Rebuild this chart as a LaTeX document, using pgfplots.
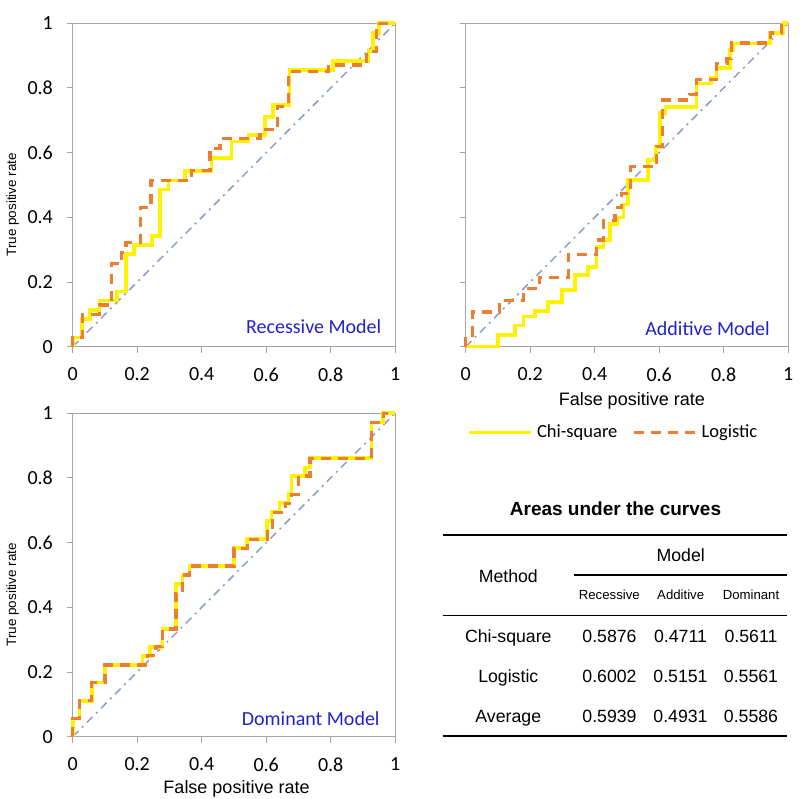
\documentclass[border=0pt]{standalone}
\usepackage{pgfplots}
\pgfplotsset{compat=1.18}
\usepackage{fontspec}
\setmainfont{Liberation Sans}
\newfontfamily\carlito{Carlito}
\definecolor{chiyellow}{RGB}{255,242,0}
\definecolor{logorange}{RGB}{237,125,49}
\definecolor{diagblue}{RGB}{138,156,200}
\definecolor{axgray}{RGB}{166,166,166}
\definecolor{modelblue}{RGB}{34,34,204}
\tikzset{mlabel/.style={anchor=base east, text=modelblue, inner sep=0pt, font=\carlito\fontsize{10}{12}\selectfont}}
\pgfplotsset{
  rocaxis/.style={
    scale only axis, width=161.25pt, height=161.7pt,
    anchor=south west,
    xmin=0, xmax=1, ymin=0, ymax=1,
    xtick={0,0.2,0.4,0.6,0.8,1}, ytick={0,0.2,0.4,0.6,0.8,1},
    xticklabels={0,0.2,0.4,0.6,0.8,1},
    yticklabels={0,0.2,0.4,0.6,0.8,1},
    tick align=outside, xtick pos=bottom, ytick pos=left,
    major tick length=3pt,
    tick style={axgray, line width=0.5pt},
    axis line style={axgray, line width=0.5pt},
    ticklabel style={font=\carlito\fontsize{10}{12}\selectfont},
    xticklabel style={yshift=-4pt},
    yticklabel style={xshift=-3.4pt},
    clip=false,
    ylabel style={at={(axis description cs:-0.186,0.439)}, anchor=center, font=\fontsize{6.75}{8}\selectfont},
    xlabel style={font=\fontsize{9}{11}\selectfont, anchor=base},
  },
  diag/.style={forget plot, diagblue, line width=0.75pt, dash pattern=on 4pt off 2.5pt on 1pt off 2.5pt},
  chi/.style={chiyellow, line width=1.8pt, line join=miter},
  logi/.style={logorange, line width=1.6pt, dash pattern=on 5pt off 3.5pt},
}
\begin{document}
\begin{tikzpicture}
\useasboundingbox (0pt,0pt) rectangle (400pt,399.5pt);
% ---------------- Recessive
\begin{axis}[rocaxis, at={(36.35pt,226.15pt)}, ylabel={True positive rate}]
\addplot[diag] coordinates {(0,0) (1,1)};
\addplot[chi] coordinates {(0,0) (0,0.029) (0.028,0.029) (0.028,0.086) (0.054,0.086) (0.054,0.114) (0.083,0.114) (0.083,0.143) (0.138,0.143) (0.138,0.171) (0.165,0.171) (0.165,0.286) (0.19,0.286) (0.19,0.314) (0.245,0.314) (0.245,0.343) (0.27,0.343) (0.27,0.486) (0.297,0.486) (0.297,0.514) (0.348,0.514) (0.348,0.543) (0.431,0.543) (0.431,0.583) (0.493,0.583) (0.493,0.634) (0.545,0.634) (0.545,0.655) (0.596,0.655) (0.596,0.711) (0.622,0.711) (0.622,0.747) (0.672,0.747) (0.672,0.856) (0.808,0.856) (0.808,0.884) (0.917,0.884) (0.917,0.914) (0.932,0.914) (0.932,0.97) (0.95,0.97) (0.95,1) (1,1)};
\addplot[logi] coordinates {(0,0) (0,0.029) (0.031,0.029) (0.031,0.1) (0.083,0.1) (0.083,0.129) (0.121,0.129) (0.121,0.257) (0.152,0.257) (0.152,0.292) (0.165,0.292) (0.165,0.322) (0.209,0.322) (0.209,0.43) (0.243,0.43) (0.243,0.514) (0.369,0.514) (0.369,0.546) (0.426,0.546) (0.426,0.614) (0.457,0.614) (0.457,0.643) (0.581,0.643) (0.581,0.671) (0.636,0.671) (0.636,0.743) (0.669,0.743) (0.669,0.85) (0.793,0.85) (0.793,0.871) (0.912,0.871) (0.912,0.914) (0.943,0.914) (0.943,1) (1,1)};
\node[mlabel] at (rel axis cs:0.958,0.042) {Recessive Model};
\end{axis}
% ---------------- Additive
\begin{axis}[rocaxis, at={(232.85pt,226.15pt)}, yticklabels={}, xlabel={False positive rate},
  xlabel style={at={(axis description cs:0.515,-0.182)}},
  legend style={at={(axis description cs:0.461,-0.265)}, anchor=center, draw=none, fill=none,
    legend columns=2, font=\carlito\fontsize{9.25}{11}\selectfont,
    /tikz/every even column/.append style={column sep=5.5pt}},
  legend image code/.code={\draw[#1] (0pt,0pt) -- (31pt,0pt);}]
\addplot[diag] coordinates {(0,0) (1,1)};
\addplot[chi] coordinates {(0,0) (0.101,0) (0.101,0.036) (0.153,0.036) (0.153,0.065) (0.179,0.065) (0.179,0.093) (0.215,0.093) (0.215,0.11) (0.256,0.11) (0.256,0.139) (0.298,0.139) (0.298,0.175) (0.339,0.175) (0.339,0.222) (0.38,0.222) (0.38,0.247) (0.406,0.247) (0.406,0.309) (0.427,0.309) (0.427,0.33) (0.447,0.33) (0.447,0.38) (0.47,0.38) (0.47,0.4) (0.489,0.4) (0.489,0.44) (0.504,0.44) (0.504,0.515) (0.566,0.515) (0.566,0.577) (0.59,0.577) (0.59,0.618) (0.602,0.618) (0.602,0.722) (0.62,0.722) (0.62,0.742) (0.716,0.742) (0.716,0.814) (0.76,0.814) (0.76,0.83) (0.778,0.83) (0.778,0.861) (0.82,0.861) (0.82,0.917) (0.83,0.917) (0.83,0.938) (0.944,0.938) (0.944,0.97) (0.985,0.97) (0.985,1) (1,1)};
\addlegendentry{Chi-square}
\addplot[logi] coordinates {(0,0) (0,0.036) (0.02,0.036) (0.02,0.107) (0.106,0.107) (0.106,0.143) (0.18,0.143) (0.18,0.179) (0.228,0.179) (0.228,0.214) (0.318,0.214) (0.318,0.286) (0.406,0.286) (0.406,0.33) (0.427,0.33) (0.427,0.39) (0.463,0.39) (0.463,0.43) (0.484,0.43) (0.484,0.474) (0.512,0.474) (0.512,0.557) (0.592,0.557) (0.592,0.62) (0.611,0.62) (0.611,0.763) (0.695,0.763) (0.695,0.78) (0.716,0.78) (0.716,0.825) (0.778,0.825) (0.778,0.876) (0.81,0.876) (0.81,0.89) (0.825,0.89) (0.825,0.939) (0.944,0.939) (0.944,0.97) (0.98,0.97) (0.98,1) (1,1)};
\addlegendentry{Logistic}
\node[mlabel] at (rel axis cs:0.944,0.036) {Additive Model};
\end{axis}
% ---------------- Dominant
\begin{axis}[rocaxis, at={(36.35pt,31.15pt)}, ylabel={True positive rate}, xlabel={False positive rate},
  xlabel style={at={(axis description cs:0.508,-0.177)}}]
\addplot[diag] coordinates {(0,0) (1,1)};
\addplot[chi] coordinates {(0,0) (0,0.056) (0.021,0.056) (0.021,0.111) (0.059,0.111) (0.059,0.167) (0.1,0.167) (0.1,0.222) (0.217,0.222) (0.217,0.25) (0.24,0.25) (0.24,0.278) (0.279,0.278) (0.279,0.333) (0.32,0.333) (0.32,0.472) (0.341,0.472) (0.341,0.5) (0.362,0.5) (0.362,0.528) (0.5,0.528) (0.5,0.583) (0.541,0.583) (0.541,0.611) (0.603,0.611) (0.603,0.667) (0.617,0.667) (0.617,0.694) (0.641,0.694) (0.641,0.722) (0.669,0.722) (0.669,0.75) (0.679,0.75) (0.679,0.806) (0.72,0.806) (0.72,0.833) (0.736,0.833) (0.736,0.861) (0.927,0.861) (0.927,0.972) (0.963,0.972) (0.963,1) (1,1)};
\addplot[logi] coordinates {(0,0) (0,0.056) (0.021,0.056) (0.021,0.111) (0.059,0.111) (0.059,0.167) (0.1,0.167) (0.1,0.222) (0.231,0.222) (0.231,0.25) (0.258,0.25) (0.258,0.278) (0.279,0.278) (0.279,0.333) (0.32,0.333) (0.32,0.444) (0.341,0.444) (0.341,0.5) (0.362,0.5) (0.362,0.528) (0.5,0.528) (0.5,0.583) (0.541,0.583) (0.541,0.611) (0.603,0.611) (0.603,0.639) (0.62,0.639) (0.62,0.694) (0.66,0.694) (0.66,0.722) (0.679,0.722) (0.679,0.75) (0.7,0.75) (0.7,0.806) (0.736,0.806) (0.736,0.861) (0.927,0.861) (0.927,0.972) (0.963,0.972) (0.963,1) (1,1)};
\node[mlabel] at (rel axis cs:0.953,0.036) {Dominant Model};
\end{axis}
% ---------------- AUC table
\begin{scope}[x=0.5pt,y=0.5pt]
\node[anchor=base, font=\bfseries\fontsize{9.5}{11}\selectfont] at (615.5,283) {Areas under the curves};
\draw[line width=1pt] (442.7,264) -- (786.7,264);
\node[anchor=base, font=\fontsize{8.85}{10}\selectfont] at (680.7,237.3) {Model};
\draw[line width=0.7pt] (574,224) -- (786.7,224);
\node[anchor=base, font=\fontsize{8.85}{10}\selectfont] at (508.3,216.7) {Method};
\node[anchor=base, font=\fontsize{6.6}{8}\selectfont] at (609.3,199) {Recessive};
\node[anchor=base, font=\fontsize{6.6}{8}\selectfont] at (680.7,199) {Additive};
\node[anchor=base, font=\fontsize{6.6}{8}\selectfont] at (751,199) {Dominant};
\draw[line width=0.7pt] (442.7,183.3) -- (786.7,183.3);
\foreach \lab/\a/\b/\c/\yy in {Chi-square/0.5876/0.4711/0.5611/156.3, Logistic/0.6002/0.5151/0.5561/116.3, Average/0.5939/0.4931/0.5586/76.3}{
  \node[anchor=base, font=\fontsize{8.85}{10}\selectfont] at (508.3,\yy) {\lab};
  \node[anchor=base, font=\fontsize{8.85}{10}\selectfont] at (609.5,\yy) {\a};
  \node[anchor=base, font=\fontsize{8.85}{10}\selectfont] at (680.5,\yy) {\b};
  \node[anchor=base, font=\fontsize{8.85}{10}\selectfont] at (751,\yy) {\c};
}
\draw[line width=1pt] (442.7,63.3) -- (786.7,63.3);
\end{scope}
\end{tikzpicture}
\end{document}
